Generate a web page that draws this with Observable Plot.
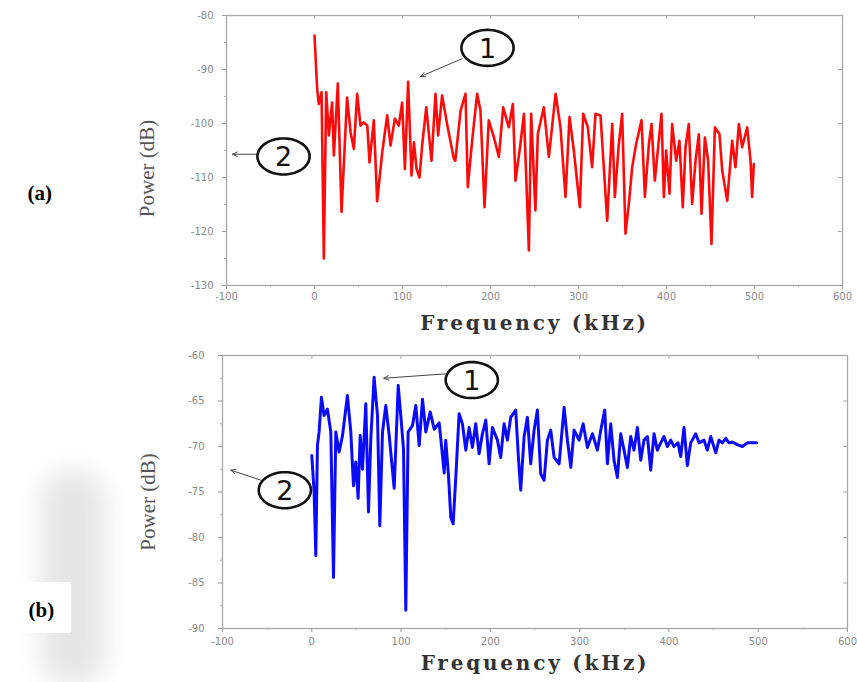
<!DOCTYPE html>
<html>
<head>
<meta charset="utf-8">
<script src="https://cdn.jsdelivr.net/npm/d3@7"></script>
<script src="https://cdn.jsdelivr.net/npm/@observablehq/plot@0.6"></script>
<style>
  html, body { margin: 0; padding: 0; background: #fff; }
  #root { position: relative; width: 857px; height: 682px; overflow: hidden; background: #fff; }
  .panel { position: absolute; left: 0; }
  #smudge { position: absolute; left: 40px; top: 470px; width: 66px; height: 215px;
            background: #c8c8c8; filter: blur(12px); opacity: 0.45; border-radius: 30px; }
  #whitebox { position: absolute; left: 0; top: 582px; width: 71px; height: 51px; background: #fff; }
</style>
</head>
<body>
<div id="root">
  <div id="smudge"></div>
  <div id="whitebox"></div>
</div>
<script>
// ---------- data: panel (a) ----------
const freqA = [0,3,4.9,8,10.6,13.3,16.3,20,22,26.5,30.7,37,41,44.7,48.5,52.3,56,60,62.5,67.4,71.2,77,82.6,86.4,91.3,95.8,99.6,102.7,106.4,110.2,113,116,119.3,122.3,127,133,137.5,140.5,145,151,158.3,160,166,171.6,174.2,179.2,184.8,188.6,193.2,198,203.8,209.5,214.4,220.8,225.4,228.4,234,238,243.6,246.2,251,253.8,260.6,266.3,274,279.5,285.2,289.8,294.7,301.5,305.3,310.6,315.5,319.3,325,332.6,338.3,341.3,345.8,349.6,353.4,357.2,361,365.5,371.6,375.4,380,383,386.7,390.5,394.3,397,399.6,403.4,406.4,411,414.7,418.5,421.6,425.3,429.1,433,436.7,439.8,443.6,447.3,451.1,455,460.2,463.3,469,474.6,478.4,482.2,486,491.7,495.5,497.3,499.2];
const powerA = [-83.7,-93.6,-96.4,-94.2,-125,-94.2,-102.2,-96.1,-105.9,-92.6,-116.4,-95.2,-101.6,-104.7,-94.5,-100.4,-99.8,-100.4,-107.2,-99.4,-114.4,-105.3,-98.5,-104.1,-99.1,-100.4,-96.1,-108.4,-92.3,-109.6,-103.5,-108.4,-110,-104.1,-97,-106.9,-94.5,-102.2,-94.8,-100.4,-106.5,-106.9,-97.6,-94.5,-111.8,-103.1,-94.5,-97.6,-115.5,-99.4,-102.5,-106.2,-97,-100.7,-96.4,-110.6,-103.8,-98.2,-123.5,-98.2,-116.1,-101.9,-97,-106.2,-94.5,-100.7,-113.6,-98.8,-105,-115.5,-98.2,-100.7,-108.1,-98.2,-98.5,-118,-100.1,-113.6,-103.8,-98.2,-120.4,-114.9,-108.1,-103.8,-99.4,-113.6,-103.8,-100.1,-110.6,-104.4,-98.2,-113.6,-105,-113,-100.1,-106.9,-103.2,-115.5,-104.4,-100.1,-114.9,-106.9,-102,-116.7,-102.6,-106.9,-122.3,-100.7,-102,-108.7,-114.3,-103.2,-108.1,-100.1,-104.4,-100.7,-106.9,-113.6,-107.5];

// ---------- data: panel (b) ----------
const freqB = [0,2.6,4.5,6.3,8.2,10.8,13.8,17.5,21.3,24.3,26.9,30.6,34.4,39.9,43.7,46.7,49.3,51.9,54.2,56.8,60.5,63.5,66.1,69.8,73.6,76.2,79.2,82.9,86.7,92.3,96.8,99.7,102.7,105.3,107.9,112.8,116.5,120.3,124,127.7,132.6,137.1,142.7,148.3,150,153,155.7,158.3,161.3,165,168.7,172.5,176.2,179.9,183.6,187.4,191.1,194.9,198.6,202.3,207.9,211.6,215.4,219.1,222.8,228.4,231.4,234,237.8,241.5,245.2,249,252.7,256.4,260.2,263.9,267.6,271.4,277,282.6,286.3,290.1,293.8,299.4,303.9,308.7,314.3,319.9,323.7,328.1,331.1,334.8,338.5,342.3,346,349.7,353.5,357.2,360.9,364.7,368.4,372.1,375.9,379.6,383.3,387,390.8,394.5,398.2,402,405.7,410.2,413.2,416.9,420.6,424.4,430,433.7,439.3,443,446.8,452.4,456.1,459.9,463.6,467.3,471,476.6,482.2,487.8,493.4,498.3];
const powerB = [-71,-75,-82,-69.9,-68.4,-64.6,-66.6,-65.9,-68.4,-84.4,-68.4,-70.6,-68.8,-64.4,-68.4,-74.3,-71.7,-75.7,-68.8,-72.5,-65.3,-77.2,-69.2,-62.4,-66.6,-78.7,-68.4,-65.5,-68.8,-74.6,-63.3,-66.6,-70.3,-88,-68.4,-67.7,-65.5,-69.9,-64.8,-68.4,-66.2,-68.1,-67.4,-72.9,-69.3,-73,-77.8,-78.5,-73.4,-66.4,-67.5,-70.4,-67.9,-70.1,-67.5,-70.8,-68.6,-67.1,-71.9,-67.9,-69.3,-71.2,-67.5,-69.3,-66.8,-66,-71.2,-74.8,-68.9,-66.8,-71.9,-68.2,-66,-73,-73.7,-69.3,-68.2,-71.2,-71.9,-65.7,-69.3,-72.3,-68.2,-69.3,-67.5,-70.1,-68.6,-70.4,-68.2,-66,-71.9,-67.5,-71.5,-73.4,-68.6,-70.4,-72.3,-68.9,-70.4,-67.9,-71.5,-69.3,-68.9,-72.6,-68.6,-70.4,-69.6,-68.9,-70,-69.3,-70,-69.6,-71.1,-67.9,-72.1,-69.6,-68.6,-69.6,-69.3,-70.4,-68.9,-70.7,-69.3,-69.6,-69.1,-69.6,-69.5,-69.8,-70,-69.6,-69.6,-69.6];

// ---------- axes ----------
const xTicks = [-100, 0, 100, 200, 300, 400, 500, 600];
const xMinor = [-50, 50, 150, 250, 350, 450, 550];
const yTicksA = [-130, -120, -110, -100, -90, -80];
const yMinorA = [-125, -115, -105, -95, -85];
const yTicksB = [-90, -85, -80, -75, -70, -65, -60];
const yMinorB = [-87.5, -82.5, -77.5, -72.5, -67.5, -62.5];

// ---------- annotations (data units) ----------
const calloutsA = [{label: "1", f: 196.6, p: -86}, {label: "2", f: -35.2, p: -106.1}];
const arrowsA = [{f1: 167.8, p1: -88, f2: 120.5, p2: -91.3}, {f1: -63.6, p1: -105.7, f2: -93.2, p2: -105.7}];
const calloutsB = [{label: "1", f: 179.2, p: -62.7}, {label: "2", f: -30.2, p: -74.8}];
const arrowsB = [{f1: 152.3, p1: -62, f2: 80.6, p2: -62.5}, {f1: -57.1, p1: -73.7, f2: -90.7, p2: -72.6}];

const seriesA = freqA.map((f, i) => ({f, p: powerA[i]}));
const seriesB = freqB.map((f, i) => ({f, p: powerB[i]}));

const ellipse = {
  draw(context, size) {
    const r = Math.sqrt(size / Math.PI);
    const rx = r * 1.45, ry = r, n = 60;
    for (let i = 0; i < n; i++) {
      const t = 2 * Math.PI * i / n;
      const x = rx * Math.cos(t), y = ry * Math.sin(t);
      if (i === 0) context.moveTo(x, y); else context.lineTo(x, y);
    }
    context.closePath();
  }
};

function panel({data, color, lw, yDomain, yTicks, yMinor, callouts, arrows, height, mt, mb, ml, mr, yPad, xPad, tag, tagDx, tagDy, yLabDx, yLabDy, xLabDy}) {
  const fw = 857 - ml - mr, fh = height - mt - mb;
  const plot = Plot.plot({
    width: 857, height, marginLeft: ml, marginRight: mr, marginTop: mt, marginBottom: mb,
    x: {domain: [-100, 600]},
    y: {domain: yDomain},
    style: {background: "transparent", fontFamily: "DejaVu Sans", overflow: "visible"},
    marks: [
      Plot.frame({stroke: "#a8a8a8", strokeWidth: 1.3}),
      Plot.axisX({ticks: xTicks, tickSize: 4, tickPadding: xPad, fontSize: 10, stroke: "#999", fill: "#8a8a8a", tickFormat: d => String(d), label: null}),
      Plot.axisX({ticks: xMinor, tickSize: 2, tickFormat: () => "", stroke: "#aaa", label: null}),
      Plot.axisY({ticks: yTicks, tickSize: 4, tickPadding: yPad, fontSize: 10, stroke: "#999", fill: "#8a8a8a", tickFormat: d => String(d), label: null}),
      Plot.axisY({ticks: yMinor, tickSize: 2, tickFormat: () => "", stroke: "#aaa", label: null}),
      Plot.tickX(xTicks.slice(1, -1), {x: d => d, insetBottom: fh - 4, stroke: "#aaa"}),
      Plot.tickY(yTicks.slice(1, -1), {y: d => d, insetLeft: fw - 4, stroke: "#aaa"}),
      Plot.line(data, {x: "f", y: "p", stroke: color, strokeWidth: lw, strokeLinejoin: "round"}),
      Plot.arrow(arrows, {x1: "f1", y1: "p1", x2: "f2", y2: "p2", stroke: "#444", strokeWidth: 1, headLength: 8, headAngle: 50}),
      Plot.dot(callouts, {x: "f", y: "p", r: 18, symbol: ellipse, stroke: "#111", strokeWidth: 2.6, fill: "none"}),
      Plot.text(callouts, {x: "f", y: "p", text: "label", fontSize: 27, fontFamily: "DejaVu Sans", fill: "#111", dy: 1}),
      Plot.text(["Power (dB)"], {text: d => d, frameAnchor: "left", textAnchor: "middle", lineAnchor: "middle", dx: yLabDx, dy: yLabDy, rotate: -90, fontSize: 21, fontFamily: "Liberation Serif", fill: "#555"}),
      Plot.text(["Frequency (kHz)"], {text: d => d, frameAnchor: "bottom", lineAnchor: "middle", dy: xLabDy, fontSize: 20, fontWeight: "bold", fontFamily: "DejaVu Serif", fill: "#333", className: "xlab"}),
      Plot.text([tag], {text: d => d, frameAnchor: "left", dx: tagDx, dy: tagDy, fontSize: 21, fontWeight: "bold", fontFamily: "Liberation Serif", fill: "#000"})
    ]
  });
  d3.select(plot).selectAll(".xlab text").attr("letter-spacing", "2.8px");
  return plot;
}

const root = document.getElementById("root");

const pa = panel({data: seriesA, color: "#ff0a0a", lw: 2.6, yDomain: [-130, -80], yTicks: yTicksA, yMinor: yMinorA,
  callouts: calloutsA, arrows: arrowsA, height: 340, mt: 15, mb: 55, ml: 226, mr: 15, yPad: 9, xPad: 3,
  tag: "(a)", tagDx: -199, tagDy: 43, yLabDx: -79, yLabDy: 18, xLabDy: 38});
const da = document.createElement("div");
da.className = "panel"; da.style.top = "0px";
da.appendChild(pa);
root.appendChild(da);

const pb = panel({data: seriesB, color: "#0a0aff", lw: 3, yDomain: [-90, -60], yTicks: yTicksB, yMinor: yMinorB,
  callouts: calloutsB, arrows: arrowsB, height: 342, mt: 15, mb: 54, ml: 222, mr: 10, yPad: 14, xPad: 5,
  tag: "(b)", tagDx: -194, tagDy: 118, yLabDx: -74, yLabDy: 10, xLabDy: 35});
const db = document.createElement("div");
db.className = "panel"; db.style.top = "340px";
db.appendChild(pb);
root.appendChild(db);
</script>
</body>
</html>
